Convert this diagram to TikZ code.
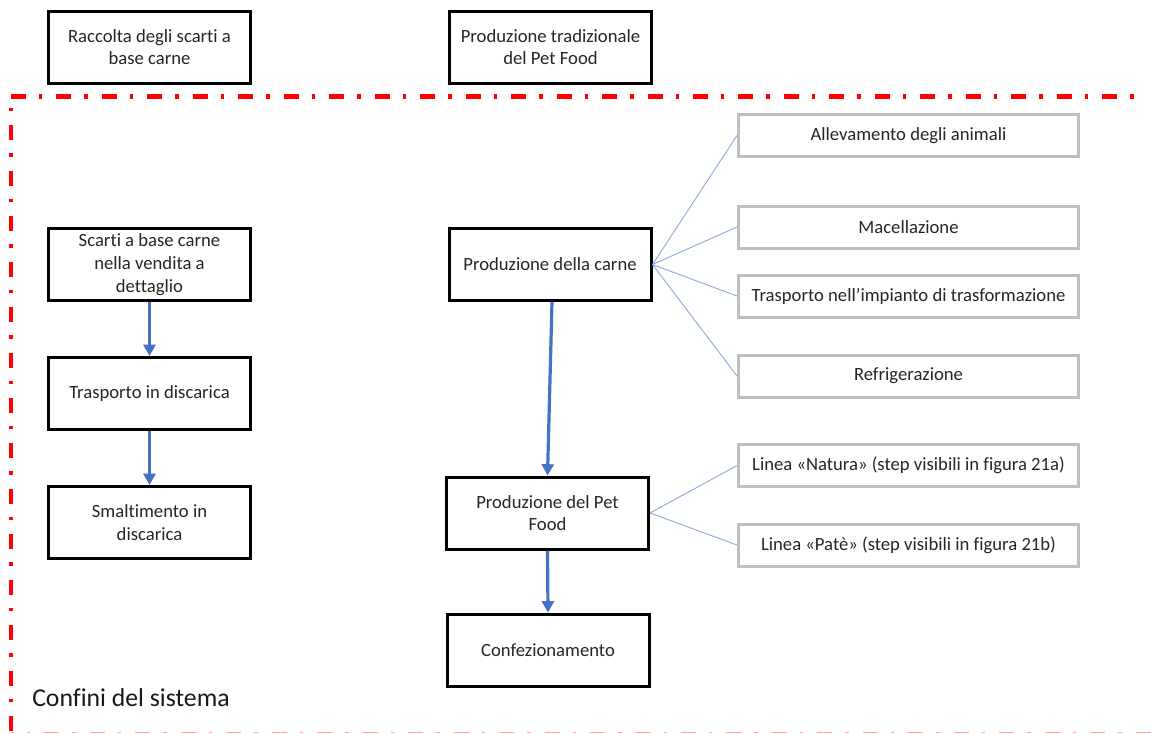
\documentclass[tikz,border=0pt]{standalone}
\usepackage{fontspec}
\setmainfont[RawFeature=-liga]{Carlito}
\usetikzlibrary{arrows.meta}

\definecolor{flowblue}{HTML}{4472C4}
\definecolor{linkblue}{HTML}{8FAADC}
\definecolor{boundred}{HTML}{FF0000}
\definecolor{subgray}{HTML}{BFBFBF}
\definecolor{txt}{HTML}{262626}

\begin{document}
\begin{tikzpicture}[x=0.75pt,y=-0.75pt,
  mainbox/.style={draw=black, line width=2.25pt, fill=white,
    minimum width=151.5pt, minimum height=54pt, inner sep=2pt,
    align=center, text=txt, font=\fontsize{14}{17}\selectfont},
  subbox/.style={draw=subgray, line width=2.25pt, fill=white,
    minimum width=255pt, minimum height=31.5pt, inner sep=2pt,
    align=center, text=txt, font=\fontsize{14}{17}\selectfont},
  flow/.style={draw=flowblue, line width=2.4pt,
    -{Triangle[length=8.5pt, width=9pt]}},
  link/.style={draw=linkblue, line width=0.7pt},
  boundary/.style={draw=boundred, line width=3.4pt,
    dash pattern=on 11.25pt off 9.75pt on 2.6pt off 10.5pt}
]
\useasboundingbox (0,0) rectangle (1151,733);

% system boundary (dash-dot frame)
\draw[boundary] (11,96.7) -- (1141,96.7);
\draw[boundary, dash phase=12.75pt] (11.2,96.7) -- (11.2,740);
\draw[boundary, draw=boundred!35, line width=1.2pt, dash phase=9pt] (11,732.6) -- (1151,732.6);

% nodes outside the boundary
\node[mainbox] (raccolta) at (149.5,47) {Raccolta degli scarti a\\base carne};
\node[mainbox] (tradiz) at (550.5,47) {Produzione tradizionale\\del Pet Food};

% waste chain
\node[mainbox] (scarti) at (149.5,264.5) {Scarti a base carne\\nella vendita a\\dettaglio};
\node[mainbox] (trasp) at (149.5,393.5) {Trasporto in discarica};
\node[mainbox] (smalt) at (149.5,522.5) {Smaltimento in\\discarica};

% pet food chain
\node[mainbox] (carne) at (550,264.5) {Produzione della carne};
\node[mainbox] (petfood) at (547.5,513) {Produzione del Pet\\Food};
\node[mainbox] (confez) at (548,650) {Confezionamento};

% sub-steps
\node[subbox] (allev) at (908.5,135.5) {Allevamento degli animali};
\node[subbox] (macel) at (908.5,227) {Macellazione};
\node[subbox] (trimp) at (908.5,296) {Trasporto nell’impianto di trasformazione};
\node[subbox] (refrig) at (908.5,376) {Refrigerazione};
\node[subbox] (natura) at (908.5,465.5) {Linea «Natura» (step visibili in figura 21a)};
\node[subbox] (pate) at (908.5,545) {Linea «Patè» (step visibili in figura 21b)};

% flows
\draw[flow] (scarti.south) -- (trasp.north);
\draw[flow] (trasp.south) -- (smalt.north);
\draw[flow] ([xshift=1.5pt]carne.south) -- (petfood.north);
\draw[flow] (petfood.south) -- (confez.north);

% links to sub-steps
\foreach \s in {allev,macel,trimp,refrig}
  \draw[link] (carne.east) -- (\s.west);
\foreach \s in {natura,pate}
  \draw[link] (petfood.east) -- (\s.west);

% label
\node[anchor=base west, inner sep=0pt, text=black!90,
  font=\fontsize{19.3}{23}\selectfont] (confini) at (32,706) {Confini del sistema};
\end{tikzpicture}
\end{document}
